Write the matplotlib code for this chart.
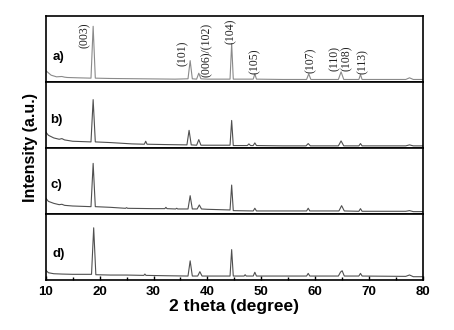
import matplotlib
matplotlib.use("Agg")
import matplotlib.pyplot as plt
from matplotlib.ticker import MultipleLocator

# (2 theta, normalised intensity) vertices
pattern_a = [(10, 0.17), (11, 0.10), (12, 0.075), (13, 0.08), (13.5, 0.07), (14, 0.065),
             (16, 0.06), (18.4, 0.055), (18.8, 0.84), (19.2, 0.055), (22, 0.05), (28, 0.045),
             (34, 0.04), (36.4, 0.045), (36.8, 0.32), (37.2, 0.045), (38.0, 0.04), (38.4, 0.13),
             (38.8, 0.045), (40, 0.04), (44.2, 0.04), (44.5, 0.58), (44.8, 0.04), (48.5, 0.04),
             (48.8, 0.12), (49.1, 0.04), (54, 0.035), (58.4, 0.035), (58.8, 0.12), (59.2, 0.035),
             (64.3, 0.035), (64.8, 0.15), (65.3, 0.035), (68.1, 0.035), (68.4, 0.11), (68.7, 0.035),
             (76.8, 0.035), (77.5, 0.06), (78.2, 0.035), (80, 0.035)]

pattern_b = [(10, 0.24), (10.5, 0.19), (11.5, 0.15), (12.5, 0.13), (13, 0.14), (13.5, 0.12),
             (15, 0.10), (18.4, 0.09), (18.8, 0.73), (19.2, 0.09), (22, 0.08), (26, 0.06),
             (28.3, 0.055), (28.55, 0.10), (28.8, 0.055), (32, 0.05), (36.2, 0.045), (36.6, 0.265),
             (37.0, 0.045), (38.0, 0.04), (38.4, 0.125), (38.8, 0.04), (40, 0.04), (44.2, 0.04),
             (44.5, 0.415), (44.8, 0.035), (47.4, 0.035), (47.7, 0.06), (48.0, 0.035), (48.5, 0.035),
             (48.8, 0.075), (49.1, 0.035), (54, 0.03), (58.3, 0.03), (58.7, 0.065), (59.1, 0.03),
             (64.3, 0.03), (64.8, 0.105), (65.3, 0.03), (68.1, 0.03), (68.4, 0.065), (68.7, 0.03),
             (76.8, 0.03), (77.5, 0.045), (78.2, 0.03), (80, 0.03)]

pattern_c = [(10, 0.24), (10.5, 0.19), (11.5, 0.16), (12.5, 0.14), (13, 0.146), (13.5, 0.13),
             (15, 0.12), (18.4, 0.11), (18.8, 0.765), (19.2, 0.11), (22, 0.10), (24.8, 0.085),
             (25.0, 0.095), (25.2, 0.085), (30, 0.08), (32.1, 0.08), (32.3, 0.10), (32.5, 0.08),
             (34.1, 0.075), (34.3, 0.086), (34.5, 0.075), (36.4, 0.075), (36.8, 0.276), (37.2, 0.075),
             (38.1, 0.075), (38.5, 0.136), (38.9, 0.075), (40, 0.07), (44.2, 0.06), (44.5, 0.437),
             (44.8, 0.05), (48.5, 0.045), (48.8, 0.086), (49.1, 0.045), (54, 0.045), (58.4, 0.045),
             (58.7, 0.086), (59.0, 0.045), (64.4, 0.045), (64.9, 0.125), (65.4, 0.045), (68.1, 0.04),
             (68.4, 0.08), (68.7, 0.04), (76.8, 0.04), (77.5, 0.05), (78.2, 0.035), (80, 0.035)]

pattern_d = [(10, 0.15), (10.5, 0.11), (11.5, 0.095), (13, 0.09), (15, 0.086), (18.5, 0.086),
             (18.9, 0.79), (19.3, 0.08), (22, 0.075), (25, 0.075), (28.2, 0.07), (28.4, 0.09),
             (28.6, 0.07), (32, 0.065), (36.4, 0.06), (36.8, 0.29), (37.2, 0.06), (38.2, 0.06),
             (38.6, 0.126), (39.0, 0.06), (40, 0.06), (44.2, 0.06), (44.5, 0.46), (44.8, 0.06),
             (46.8, 0.06), (47.0, 0.08), (47.2, 0.06), (48.5, 0.06), (48.8, 0.117), (49.1, 0.06),
             (54, 0.06), (58.4, 0.06), (58.7, 0.10), (59.0, 0.06), (64.3, 0.06), (64.7, 0.12),
             (65.0, 0.14), (65.4, 0.06), (68.1, 0.06), (68.4, 0.10), (68.7, 0.06), (76.8, 0.055),
             (77.5, 0.076), (78.2, 0.05), (80, 0.05)]

patterns = [pattern_a, pattern_b, pattern_c, pattern_d]
panel_names = ["a)", "b)", "c)", "d)"]
panel_name_pos = [(11.2, 0.37), (10.9, 0.415), (10.8, 0.437), (11.2, 0.39)]

# Miller indices written above pattern a
hkl_labels = ["(003)", "(101)", "(006)/(102)", "(104)", "(105)", "(107)", "(110)", "(108)", "(113)"]
hkl_pos = [(17.2, 0.71), (35.4, 0.43), (39.9, 0.475), (44.3, 0.77), (48.8, 0.31),
           (59.1, 0.33), (63.6, 0.35), (65.8, 0.35), (68.9, 0.30)]

fig, axes = plt.subplots(4, 1, sharex=True, figsize=(4.54, 3.30), dpi=100)
fig.subplots_adjust(left=0.1007, right=0.9317, bottom=0.1515, top=0.9524, hspace=0)

for i, (ax, pat) in enumerate(zip(axes, patterns)):
    xs = [p[0] for p in pat]
    ys = [p[1] for p in pat]
    ax.plot(xs, ys, color="#8a8a8a" if i == 0 else "#505050", linewidth=0.8)
    ax.set_xlim(10, 80)
    ax.set_ylim(0, 1)
    ax.set_yticks([])
    for s in ax.spines.values():
        s.set_linewidth(1.2)
    nx, ny = panel_name_pos[i]
    ax.text(nx, ny, panel_names[i], fontsize=9.5, fontweight="bold", family="Liberation Sans",
            ha="left", va="center")
    if i < 3:
        ax.tick_params(axis="x", which="both", bottom=False, labelbottom=False)

for lab, (lx, ly) in zip(hkl_labels, hkl_pos):
    axes[0].text(lx, ly, lab, rotation=90, fontsize=8.5, family="Liberation Serif",
                 color="#222222", ha="center", va="center")

ax = axes[-1]
ax.xaxis.set_major_locator(MultipleLocator(10))
ax.xaxis.set_minor_locator(MultipleLocator(5))
ax.tick_params(axis="x", which="major", direction="in", length=3, width=1, pad=4)
ax.tick_params(axis="x", which="minor", direction="in", length=2, width=1)
for t in ax.get_xticklabels():
    t.set_fontweight("bold")
    t.set_fontsize(9.5)
    t.set_family("Liberation Sans")
ax.set_xlabel("2 theta (degree)", fontsize=12.5, fontweight="bold", family="Liberation Sans", labelpad=1)
fig.text(0.068, 0.552, "Intensity (a.u.)", rotation=90, fontsize=11.5, fontweight="bold",
         family="Liberation Sans", ha="center", va="center")

fig.savefig("out.png", dpi=100)
